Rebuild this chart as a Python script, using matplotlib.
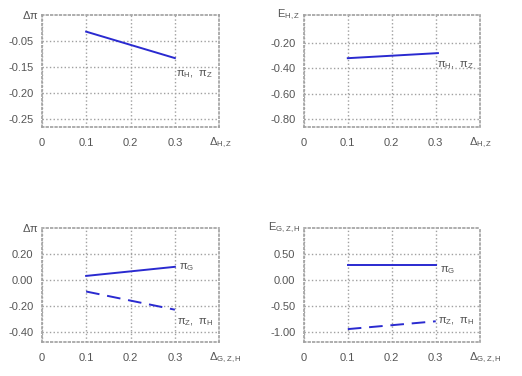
import matplotlib.pyplot as plt

# x positions (Delta) shared by all panels
delta = [0.1, 0.3]

# top-left: d pi for pi_H, pi_Z
dpi_hz = [-0.032, -0.083]
# top-right: E_H,Z
e_hz = [-0.32, -0.28]
# bottom-left: d pi for pi_G and pi_Z, pi_H
dpi_g = [0.03, 0.10]
dpi_zh = [-0.09, -0.23]
# bottom-right: E_G,Z,H
e_g = [0.29, 0.29]
e_zh = [-0.94, -0.79]

x_ticks = [0, 0.1, 0.2, 0.3]
x_labels = ['0', '0.1', '0.2', '0.3']

# y ticks as printed in the figure
tl_ticks = [-0.05, -0.10, -0.15, -0.20]
tl_labels = ['-0.05', '-0.15', '-0.20', '-0.25']
tr_ticks = [-0.2, -0.4, -0.6, -0.8]
tr_labels = ['-0.20', '-0.40', '-0.60', '-0.80']
bl_ticks = [0.2, 0.0, -0.2, -0.4]
bl_labels = ['0.20', '0.00', '-0.20', '-0.40']
br_ticks = [0.5, 0.0, -0.5, -1.0]
br_labels = ['0.50', '0.00', '-0.50', '-1.00']

plt.rcParams['font.family'] = 'Liberation Sans'
plt.rcParams['font.size'] = 8
plt.rcParams['mathtext.default'] = 'regular'

blue = '#2a2ad0'
gridc = '#a0a0a0'

fig = plt.figure(figsize=(5.22, 3.76), dpi=100)


def setup(ax, yticks, ylabels, ylim, ylab, xlab):
    ax.set_xlim(0, 0.4)
    ax.set_ylim(*ylim)
    ax.set_xticks(x_ticks)
    ax.set_xticklabels(x_labels, color='#555555')
    ax.set_yticks(yticks)
    ax.set_yticklabels(ylabels, color='#555555')
    ax.tick_params(length=0, pad=6)
    ax.tick_params(axis='x', pad=8)
    ax.grid(True, color=gridc, linestyle=':', linewidth=1.0)
    for s in ax.spines.values():
        s.set_color(gridc)
        s.set_linestyle(':')
        s.set_linewidth(1.2)
    ax.text(-0.02, 1.0, ylab, transform=ax.transAxes, ha='right', va='center',
            color='#555555', fontsize=8)
    ax.text(0.94, -0.14, xlab, transform=ax.transAxes, ha='left', va='center',
            color='#555555', fontsize=8)


ax1 = fig.add_axes([0.080, 0.662, 0.340, 0.298])
ax1.plot(delta, dpi_hz, color=blue, lw=1.4)
setup(ax1, tl_ticks, tl_labels, (-0.216, 0.0), r'$\Delta\pi$', r'$\Delta_{H,Z}$')
ax1.text(0.302, dpi_hz[1] - 0.02, r'$\pi_H,\ \pi_Z$', color='#555555', va='top')

ax2 = fig.add_axes([0.582, 0.662, 0.337, 0.298])
ax2.plot([0.1, 0.305], e_hz, color=blue, lw=1.4)
setup(ax2, tr_ticks, tr_labels, (-0.863, 0.02), r'$E_{H,Z}$', r'$\Delta_{H,Z}$')
ax2.text(0.302, e_hz[1] - 0.05, r'$\pi_H,\ \pi_Z$', color='#555555', va='top')

ax3 = fig.add_axes([0.080, 0.090, 0.340, 0.304])
ax3.plot(delta, dpi_g, color=blue, lw=1.4)
ax3.plot(delta, dpi_zh, color=blue, lw=1.4, dashes=(7, 4))
setup(ax3, bl_ticks, bl_labels, (-0.48, 0.40), r'$\Delta\pi$', r'$\Delta_{G,Z,H}$')
ax3.text(0.31, dpi_g[1], r'$\pi_G$', color='#555555', va='center')
ax3.text(0.305, -0.33, r'$\pi_Z,\ \pi_H$', color='#555555', va='center')

ax4 = fig.add_axes([0.582, 0.090, 0.337, 0.304])
ax4.plot(delta, e_g, color=blue, lw=1.4)
ax4.plot(delta, e_zh, color=blue, lw=1.4, dashes=(7, 4))
setup(ax4, br_ticks, br_labels, (-1.19, 1.0), r'$E_{G,Z,H}$', r'$\Delta_{G,Z,H}$')
ax4.text(0.31, e_g[1] - 0.1, r'$\pi_G$', color='#555555', va='center')
ax4.text(0.305, e_zh[1], r'$\pi_Z,\ \pi_H$', color='#555555', va='center')

fig.savefig('out.png', dpi=100)
